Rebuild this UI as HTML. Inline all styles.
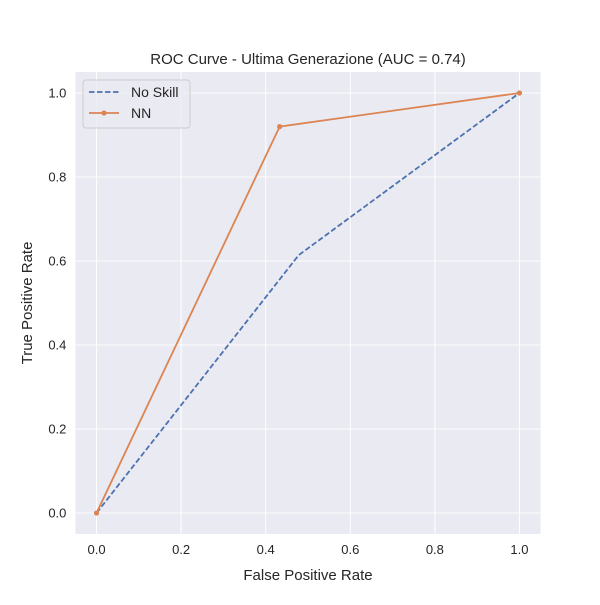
<!DOCTYPE html>
<html><head><meta charset="utf-8"><style>
body{margin:0;background:#fff}
svg text{font-family:"Liberation Sans","DejaVu Sans",sans-serif;fill:#262626}
</style></head><body>
<svg id="chart" width="600" height="600" xmlns="http://www.w3.org/2000/svg">
<rect x="0" y="0" width="600" height="600" fill="#fff"/>
<rect id="plot-bg" x="75.4" y="72" width="465.2" height="462" fill="#eaeaf2"/>
<g id="grid"></g>
<g id="series"></g>
<text x="308" y="64" font-size="15" text-anchor="middle">ROC Curve - Ultima Generazione (AUC = 0.74)</text>
<text x="308" y="580" font-size="15" text-anchor="middle">False Positive Rate</text>
<text x="32" y="303" font-size="15" text-anchor="middle" transform="rotate(-90 32 303)">True Positive Rate</text>
<g>
<rect x="83" y="80" width="107" height="48" rx="3" fill="#eaeaf2" stroke="#cccccc" fill-opacity="0.8"/>
<g>
<line x1="89" y1="92" x2="119" y2="92" stroke="#4c72b0" stroke-width="1.8" stroke-dasharray="5.5,2.5"/>
<text x="131" y="97" font-size="14">No Skill</text></g>
<g>
<line x1="89" y1="113" x2="119" y2="113" stroke="#dd8452" stroke-width="1.8"/>
<circle cx="104" cy="113" r="2.6" fill="#dd8452"/>
<text x="131" y="118" font-size="14">NN</text></g>
</g>
</svg>
<script>
const ticks=[0,0.2,0.4,0.6,0.8,1.0];
const tickLabels=["0.0","0.2","0.4","0.6","0.8","1.0"];
const noSkillX=[0,0.478,1];
const noSkillY=[0,0.614,1];
const nnX=[0,0.433,1];
const nnY=[0,0.920,1];
const X0=75.4,X1=540.6,Y0=534,Y1=72;
const sx=v=>X0+(v+0.05)/1.1*(X1-X0);
const sy=v=>Y0-(v+0.05)/1.1*(Y0-Y1);
const NS="http://www.w3.org/2000/svg";
const svg=document.getElementById('chart');
const grid=document.getElementById('grid');
const ser=document.getElementById('series');
function mk(t,a,p){const e=document.createElementNS(NS,t);for(const k in a)e.setAttribute(k,a[k]);(p||svg).appendChild(e);return e;}
ticks.forEach((t,i)=>{
 const gx=mk('line',{x1:sx(t),x2:sx(t),y1:Y1,y2:Y0,stroke:'#fff','stroke-width':1},grid);
 
 
 const gy=mk('line',{x1:X0,x2:X1,y1:sy(t),y2:sy(t),stroke:'#fff','stroke-width':1},grid);
 
 
 const tx=mk('text',{x:sx(t),y:Y0+20,'font-size':13,'text-anchor':'middle'});
 tx.textContent=tickLabels[i];
 
 
 const ty=mk('text',{x:X0-9,y:sy(t)+4.5,'font-size':13,'text-anchor':'end'});
 ty.textContent=tickLabels[i];
 
 
});
const pts=(xs,ys)=>xs.map((x,i)=>sx(x)+','+sy(ys[i])).join(' ');
const l1=mk('polyline',{points:pts(noSkillX,noSkillY),fill:'none',stroke:'#4c72b0','stroke-width':1.8,'stroke-dasharray':'5.5,2.5'},ser);


const l2=mk('polyline',{points:pts(nnX,nnY),fill:'none',stroke:'#dd8452','stroke-width':1.8},ser);


nnX.forEach((x,i)=>{
 const c=mk('circle',{cx:sx(x),cy:sy(nnY[i]),r:2.6,fill:'#dd8452'},ser);
 
 
});
</script>
</body></html>
